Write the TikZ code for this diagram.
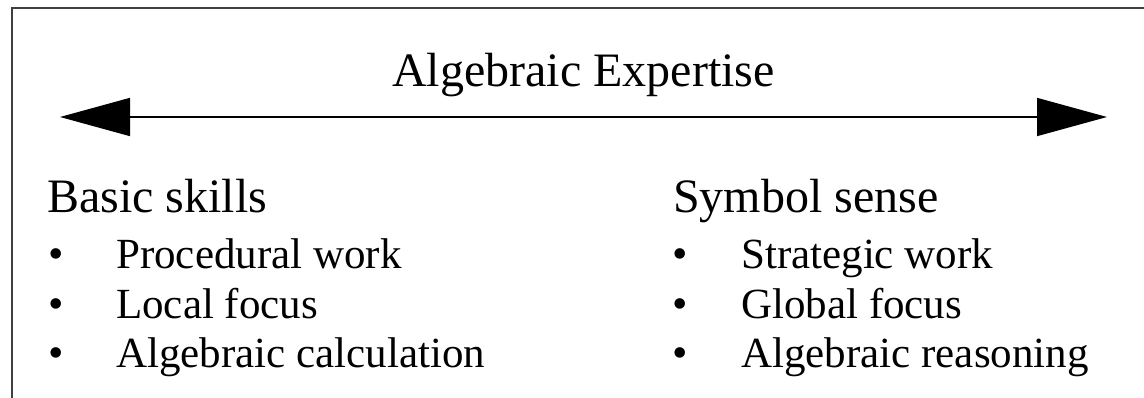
\documentclass[tikz,border=0pt]{standalone}
\usepackage{fontspec}
\setmainfont{Liberation Serif}
\usetikzlibrary{arrows.meta}
\begin{document}
\begin{tikzpicture}[x=1pt,y=-1pt,
  head/.style={anchor=base west,inner sep=0pt,font=\fontsize{48}{56}\selectfont},
  item/.style={anchor=base west,inner sep=0pt,font=\fontsize{43}{50}\selectfont},
  bul/.style={anchor=base,inner sep=0pt,font=\fontsize{44}{50}\selectfont},
  frame/.style={line width=2.2pt,draw=black!75},
  dbl/.style={line width=1.6pt,{Triangle[length=70pt,width=38pt]}-{Triangle[length=70pt,width=38pt]}}]
\useasboundingbox (0,0) rectangle (1144,398);
\fill[white] (0,0) rectangle (1144,398);
\coordinate (fb) at (12,402);
\coordinate (ftl) at (12,8);
\coordinate (fr) at (1148,8);
\draw[frame] (fb) -- (ftl) -- (fr);
\node[head] (title) at (392,87) {Algebraic Expertise};
\coordinate (L) at (60,117);
\coordinate (R) at (1107,117);
\draw[dbl] (L) -- (R);
\node[head] (basic) at (47,213) {Basic skills};
\node[bul] (b1) at (56,269) {•};
\node[bul] (b2) at (56,319) {•};
\node[bul] (b3) at (56,367) {•};
\node[item] (i1) at (116,269) {Procedural work};
\node[item] (i2) at (116,319) {Local focus};
\node[item] (i3) at (116,367) {Algebraic calculation};
\node[head] (symb) at (673,213) {Symbol sense};
\node[bul] (c1) at (680,269) {•};
\node[bul] (c2) at (680,319) {•};
\node[bul] (c3) at (680,367) {•};
\node[item] (j1) at (741,269) {Strategic work};
\node[item] (j2) at (741,319) {Global focus};
\node[item] (j3) at (741,367) {Algebraic reasoning};
\end{tikzpicture}
\end{document}
